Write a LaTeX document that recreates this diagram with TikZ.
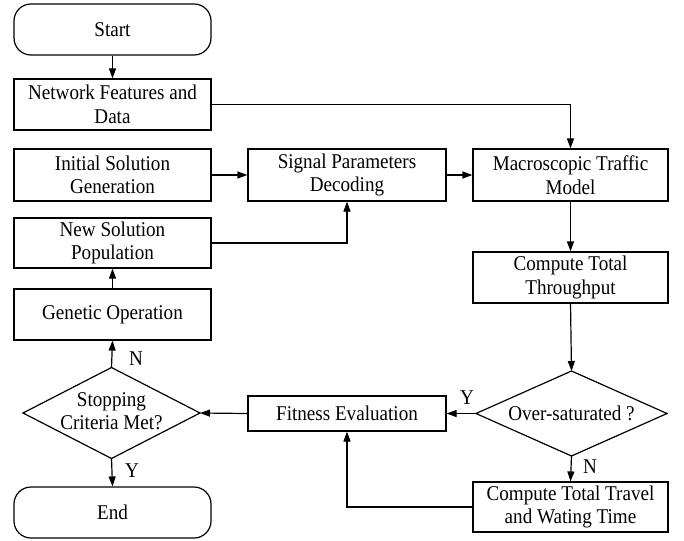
\documentclass[tikz,border=0pt]{standalone}
\usepackage{fontspec}
\setmainfont{Liberation Serif}[FakeStretch=0.91]
\usetikzlibrary{arrows.meta}
\begin{document}
\begin{tikzpicture}[x=1pt,y=-1pt,
  every node/.style={font=\fontsize{21}{23.5}\selectfont},
  box/.style={draw,line width=1.2pt,rectangle,align=center,inner sep=0pt,minimum width=197pt,minimum height=51pt},
  term/.style={box,rounded corners=17pt},
  dectext/.style={align=center,inner sep=0pt},
  decline/.style={line width=1.2pt,line join=miter},
  arr/.style={line width=1.2pt,-{Triangle[length=10pt,width=7pt]}},
  lab/.style={inner sep=0pt}]
\useasboundingbox (0,0) rectangle (684,540);
\node[term] (start) at (112.5,29.5) {Start};
\node[box] (net) at (112.5,104.5) {Network Features and\\Data};
\node[box,minimum height=52pt] (init) at (112.5,175) {Initial Solution\\Generation};
\node[box,minimum height=50pt] (newsol) at (112.5,243) {New Solution\\Population};
\node[box] (gen) at (112.5,314.5) {Genetic Operation};
% Stopping diamond
\node[dectext] (stop) at (111.5,411) {Stopping\\Criteria Met?};
\coordinate (stopN) at (111.5,367.5);
\coordinate (stopS) at (111.5,458.5);
\coordinate (stopW) at (23,413);
\coordinate (stopE) at (200,413);
\draw[decline] (stopN) -- (stopE) -- (stopS) -- (stopW) -- cycle;
\node[term] (end) at (112.5,512.5) {End};
\node[box,minimum width=198pt,minimum height=52pt] (sig) at (347,175) {Signal Parameters\\Decoding};
\node[box,minimum width=195pt,minimum height=52pt] (macro) at (570.5,175) {Macroscopic Traffic\\Model};
\node[box,minimum width=195pt] (thru) at (570.5,277.5) {Compute Total\\Throughput};
% Over-saturated diamond
\node[dectext] (over) at (571.5,413.5) {Over-saturated ?};
\coordinate (overN) at (571.5,371);
\coordinate (overS) at (571.5,456);
\coordinate (overW) at (476,413.5);
\coordinate (overE) at (667,413.5);
\draw[decline] (overN) -- (overE) -- (overS) -- (overW) -- cycle;
\node[box,minimum width=195pt,minimum height=50pt] (trav) at (570.5,507) {Compute Total Travel\\and Wating Time};
\node[box,minimum width=198pt,minimum height=35pt] (fit) at (347,413.5) {Fitness Evaluation};

\draw[arr] (start) -- (net);
\draw[arr] (net.east) -| (macro.north);
\draw[arr] (init) -- (sig);
\draw[arr] (newsol.east) -| (sig.south);
\draw[arr] (sig) -- (macro);
\draw[arr] (macro) -- (thru);
\draw[arr] (thru.south) -- (overN);
\draw[arr] (overW) -- (fit.east);
\draw[arr] (overS) -- (trav.north);
\draw[arr] (trav.west) -| (fit.south);
\draw[arr] (fit.west) -- (stopE);
\draw[arr] (stopN) -- (gen.south);
\draw[arr] (stopS) -- (end.north);
\draw[arr] (gen) -- (newsol);
\node[lab] (ly1) at (467,398) {Y};
\node[lab] (ln1) at (590,467) {N};
\node[lab] (ln2) at (136,359) {N};
\node[lab] (ly2) at (132,471) {Y};
\end{tikzpicture}
\end{document}
